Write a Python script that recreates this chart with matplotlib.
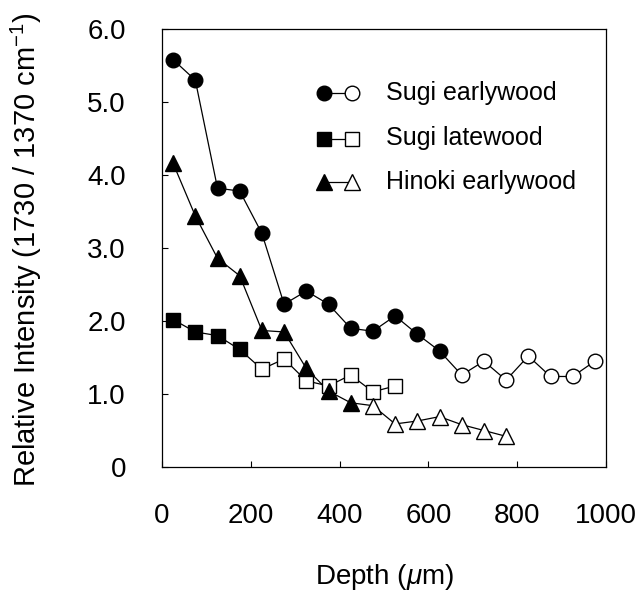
import matplotlib
matplotlib.use("Agg")
import matplotlib.pyplot as plt

plt.rcParams['font.family'] = ['Liberation Sans', 'DejaVu Sans']
plt.rcParams['mathtext.fontset'] = 'custom'
plt.rcParams['mathtext.it'] = 'Liberation Sans:italic'
plt.rcParams['mathtext.rm'] = 'Liberation Sans'

# ---- data ----
depth = [25, 75, 125, 175, 225, 275, 325, 375, 425, 475,
         525, 575, 625, 675, 725, 775, 825, 875, 925, 975]

sugi_early = [5.58, 5.30, 3.82, 3.78, 3.20, 2.23, 2.41, 2.23, 1.90, 1.86,
              2.07, 1.82, 1.59, 1.26, 1.45, 1.19, 1.52, 1.24, 1.24, 1.45]
sugi_early_nfilled = 13

sugi_late = [2.02, 1.85, 1.80, 1.61, 1.34, 1.48, 1.18, 1.11, 1.26, 1.03, 1.11]
sugi_late_nfilled = 4

hinoki_early = [4.16, 3.44, 2.86, 2.62, 1.87, 1.85, 1.35, 1.04, 0.88,
                0.84, 0.59, 0.63, 0.69, 0.58, 0.50, 0.42]
hinoki_early_nfilled = 9

labels = ['Sugi earlywood', 'Sugi latewood', 'Hinoki earlywood']
markers = ['o', 's', '^']

xticks = [0, 200, 400, 600, 800, 1000]
xticklabels = ['0', '200', '400', '600', '800', '1000']
yticks = [0, 1, 2, 3, 4, 5, 6]
yticklabels = ['0', '1.0', '2.0', '3.0', '4.0', '5.0', '6.0']

# ---- figure ----
fig = plt.figure(figsize=(6.38, 5.91), dpi=100)
ax = fig.add_axes([162/638, 1-467/591, (606-162)/638, (467-29)/591])

series = [(sugi_early, sugi_early_nfilled),
          (sugi_late, sugi_late_nfilled),
          (hinoki_early, hinoki_early_nfilled)]
msizes = {'o': 10.5, 's': 10, '^': 11}

for (vals, nf), mk in zip(series, markers):
    xs = depth[:len(vals)]
    ax.plot(xs, vals, color='black', lw=0.9, zorder=2)
    ax.plot(xs[:nf], vals[:nf], ls='none', marker=mk, ms=msizes[mk],
            mfc='black', mec='black', mew=1.0, zorder=3)
    ax.plot(xs[nf:], vals[nf:], ls='none', marker=mk, ms=msizes[mk],
            mfc='white', mec='black', mew=1.0, zorder=3)

ax.set_xlim(0, 1000)
ax.set_ylim(0, 6)
ax.set_xticks(xticks)
ax.set_xticklabels(xticklabels)
ax.set_yticks(yticks)
ax.set_yticklabels(yticklabels)
ax.tick_params(direction='in', length=4, width=0.8, labelsize=20, pad=26)
for sp in ax.spines.values():
    sp.set_linewidth(0.9)

ax.set_xlabel(r'Depth ($\mu$m)', fontsize=20)
ax.set_ylabel(r'Relative Intensity (1730 / 1370 cm$^{\mathregular{-1}}$)', fontsize=21)
ax.xaxis.set_label_coords(0.5, -0.218)
ax.yaxis.set_label_coords(-0.266, 0.497)

# ---- legend (drawn in axes coordinates) ----
leg_y = [0.853, 0.750, 0.651]
for lab, mk, yy in zip(labels, markers, leg_y):
    ax.plot([0.365, 0.429], [yy, yy], color='black', lw=0.9,
            transform=ax.transAxes, clip_on=False, zorder=4)
    ax.plot([0.365], [yy], marker=mk, ms=msizes[mk], mfc='black', mec='black',
            transform=ax.transAxes, clip_on=False, zorder=5)
    ax.plot([0.429], [yy], marker=mk, ms=msizes[mk], mfc='white', mec='black',
            transform=ax.transAxes, clip_on=False, zorder=5)
    ax.text(0.505, yy, lab, transform=ax.transAxes, fontsize=18,
            va='center', ha='left')

fig.savefig('out.png', dpi=100)
